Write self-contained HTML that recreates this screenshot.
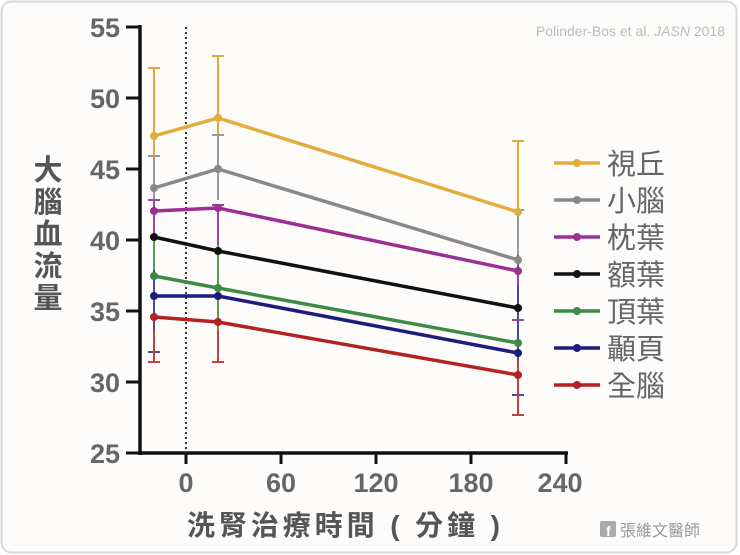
<!DOCTYPE html>
<html><head><meta charset="utf-8"><style>
html,body{margin:0;padding:0;background:#fff}
svg{display:block}
text{font-family:"Liberation Sans","Noto Sans CJK TC",sans-serif}
</style></head><body>
<svg width="740" height="555" viewBox="0 0 740 555" xmlns="http://www.w3.org/2000/svg">
<rect x="1.5" y="1.5" width="735" height="551" rx="10" fill="#fdfcfa" stroke="#d8d8d8" stroke-width="2"/>
<text x="725" y="36" font-size="14" fill="#bbb" text-anchor="end">Polinder-Bos et al. <tspan font-style="italic">JASN</tspan> 2018</text>
<g stroke="#111" stroke-width="3.5" fill="none">
<line x1="140" y1="25" x2="140" y2="455"/>
<line x1="138" y1="453" x2="568" y2="453"/>
<g stroke-width="3">
<line x1="126" y1="27" x2="140" y2="27"/><line x1="126" y1="98" x2="140" y2="98"/>
<line x1="126" y1="169" x2="140" y2="169"/><line x1="126" y1="240" x2="140" y2="240"/>
<line x1="126" y1="311" x2="140" y2="311"/><line x1="126" y1="382" x2="140" y2="382"/>
<line x1="126" y1="453" x2="140" y2="453"/>
<line x1="186" y1="453" x2="186" y2="464"/><line x1="281" y1="453" x2="281" y2="464"/>
<line x1="376" y1="453" x2="376" y2="464"/><line x1="471" y1="453" x2="471" y2="464"/>
<line x1="566" y1="453" x2="566" y2="464"/>
</g></g>
<line x1="186" y1="27" x2="186" y2="453" stroke="#333" stroke-width="2" stroke-dasharray="2,3"/>
<g font-size="27" fill="#666" text-anchor="end" font-weight="bold">
<text x="120" y="37">55</text><text x="120" y="108">50</text><text x="120" y="179">45</text>
<text x="120" y="250">40</text><text x="120" y="321">35</text><text x="120" y="392">30</text><text x="120" y="463">25</text>
</g>
<g font-size="27" fill="#666" text-anchor="middle" font-weight="bold">
<text x="186" y="492">0</text><text x="281" y="492">60</text><text x="376" y="492">120</text>
<text x="471" y="492">180</text><text x="560" y="492">240</text>
</g>
<g font-size="29" fill="#555" text-anchor="middle" font-weight="bold">
<text x="48" y="180">大</text><text x="48" y="212">腦</text><text x="48" y="244">血</text><text x="48" y="276">流</text><text x="48" y="308">量</text>
</g>
<text x="187" y="535" font-size="28" fill="#555" font-weight="bold" textLength="313" lengthAdjust="spacing">洗腎治療時間 ( 分鐘 )</text>
<g stroke-width="2" fill="none">
<g stroke="#e0a93a"><path d="M154 68V180M148 68h12M218 56V182M212 56h12M518 141V282M512 141h12"/></g>
<g stroke="#9a9a9a"><path d="M154 156V210M148 156h12M218 135V200M212 135h12M518 210V298M512 210h12"/></g>
<g stroke="#a0449a"><path d="M154 200V265M148 200h12M218 205V260M212 205h12M518 255V320M512 320h12"/></g>
<g stroke="#5a9a5a"><path d="M154 240V340M218 245V350M518 290V380"/></g>
<g stroke="#4a4aa0"><path d="M154 270V352M148 352h12M518 285V395M512 395h12"/></g>
<g stroke="#c04040"><path d="M154 330V362M148 362h12M218 330V362M212 362h12M518 360V415M512 415h12"/></g>
</g>
<g stroke-width="3.5" fill="none">
<polyline stroke="#e3ad3c" points="154,136 218,118 518,212"/>
<polyline stroke="#888" points="154,188 218,169 518,260"/>
<polyline stroke="#9b2f93" points="154,211 218,208 518,271"/>
<polyline stroke="#111" points="154,237 218,251 518,308"/>
<polyline stroke="#3d8a45" points="154,276 218,288 518,343"/>
<polyline stroke="#1c1c80" points="154,296 218,296 518,353"/>
<polyline stroke="#b22222" points="154,317 218,322 518,375"/>
</g>
<g>
<circle cx="154" cy="136" r="4" fill="#e3ad3c"/><circle cx="218" cy="118" r="4" fill="#e3ad3c"/><circle cx="518" cy="212" r="4" fill="#e3ad3c"/>
<circle cx="154" cy="188" r="4" fill="#888"/><circle cx="218" cy="169" r="4" fill="#888"/><circle cx="518" cy="260" r="4" fill="#888"/>
<circle cx="154" cy="211" r="4" fill="#9b2f93"/><circle cx="218" cy="208" r="4" fill="#9b2f93"/><circle cx="518" cy="271" r="4" fill="#9b2f93"/>
<circle cx="154" cy="237" r="4" fill="#111"/><circle cx="218" cy="251" r="4" fill="#111"/><circle cx="518" cy="308" r="4" fill="#111"/>
<circle cx="154" cy="276" r="4" fill="#3d8a45"/><circle cx="218" cy="288" r="4" fill="#3d8a45"/><circle cx="518" cy="343" r="4" fill="#3d8a45"/>
<circle cx="154" cy="296" r="4" fill="#1c1c80"/><circle cx="218" cy="296" r="4" fill="#1c1c80"/><circle cx="518" cy="353" r="4" fill="#1c1c80"/>
<circle cx="154" cy="317" r="4" fill="#b22222"/><circle cx="218" cy="322" r="4" fill="#b22222"/><circle cx="518" cy="375" r="4" fill="#b22222"/>
</g>
<g stroke-width="3.5">
<line x1="554" y1="163" x2="600" y2="163" stroke="#e3ad3c"/><circle cx="577" cy="163" r="4" fill="#e3ad3c"/>
<line x1="554" y1="200" x2="600" y2="200" stroke="#888"/><circle cx="577" cy="200" r="4" fill="#888"/>
<line x1="554" y1="237" x2="600" y2="237" stroke="#9b2f93"/><circle cx="577" cy="237" r="4" fill="#9b2f93"/>
<line x1="554" y1="274" x2="600" y2="274" stroke="#111"/><circle cx="577" cy="274" r="4" fill="#111"/>
<line x1="554" y1="311" x2="600" y2="311" stroke="#3d8a45"/><circle cx="577" cy="311" r="4" fill="#3d8a45"/>
<line x1="554" y1="348" x2="600" y2="348" stroke="#1c1c80"/><circle cx="577" cy="348" r="4" fill="#1c1c80"/>
<line x1="554" y1="385" x2="600" y2="385" stroke="#b22222"/><circle cx="577" cy="385" r="4" fill="#b22222"/>
</g>
<g font-size="29" fill="#666">
<text x="607" y="174">視丘</text><text x="607" y="211">小腦</text><text x="607" y="248">枕葉</text>
<text x="607" y="285">額葉</text><text x="607" y="322">頂葉</text><text x="607" y="359">顳頁</text><text x="607" y="396">全腦</text>
</g>
<rect x="600" y="521" width="16" height="16" rx="2" fill="#aaa"/>
<text x="606" y="536" font-size="14" fill="#fff" font-weight="bold">f</text>
<text x="620" y="536" font-size="16" fill="#999">張維文醫師</text>
</svg>
</body></html>
